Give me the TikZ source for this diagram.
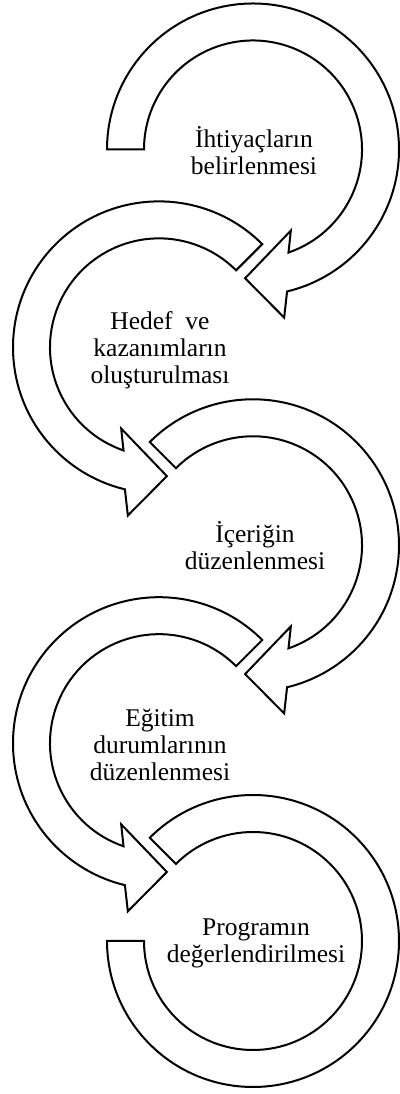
\documentclass[tikz,border=0pt]{standalone}
\usepackage{fontspec}
\setmainfont{Liberation Serif}
\begin{document}
\begin{tikzpicture}[x=1pt, y=1pt,
    band/.style={draw=black, fill=white, line width=2pt, line join=miter},
    stagetext/.style={align=center, inner sep=0pt, font=\fontsize{25.5}{27}\selectfont}]
    \useasboundingbox (0,0) rectangle (399,1094);

    % First arrow, tail cut flat on the left
    \begin{scope}[shift={(253,944.5)}]
        \draw[band] (180:146) arc[start angle=180, end angle=-76.5, radius=146]
            -- (-79.5:171) -- (-93.5:129) -- (-65:89.5) -- (-71:109)
            arc[start angle=-71, end angle=180, radius=109] -- cycle;
    \end{scope}

    % Middle arrows (mirrored on the left side)
    \foreach \cx/\cy/\sx in {159/746.6/-1, 253/548.7/1, 159/350.8/-1}
        \draw[band, shift={(\cx,\cy)}, xscale=\sx]
            (135:146) arc[start angle=135, end angle=-76.5, radius=146]
            -- (-79.5:171) -- (-93.5:129) -- (-65:89.5) -- (-71:109)
            arc[start angle=-71, end angle=135, radius=109] -- cycle;

    % Last arrow, no head
    \begin{scope}[shift={(253,153)}]
        \draw[band] (135:146) arc[start angle=135, end angle=-180, radius=146]
            -- (-180:109) arc[start angle=-180, end angle=135, radius=109] -- cycle;
    \end{scope}

    % Stage labels
    \node[stagetext] (needs) at (254,943) {İhtiyaçların\\belirlenmesi};
    \node[stagetext] (goals) at (160,744) {Hedef\ \ ve\\kazanımların\\oluşturulması};
    \node[stagetext] (content) at (255,548) {İçeriğin\\düzenlenmesi};
    \node[stagetext] (situations) at (160,349) {Eğitim\\durumlarının\\düzenlenmesi};
    \node[stagetext] (evaluation) at (256,151) {Programın\\değerlendirilmesi};

\end{tikzpicture}
\end{document}
